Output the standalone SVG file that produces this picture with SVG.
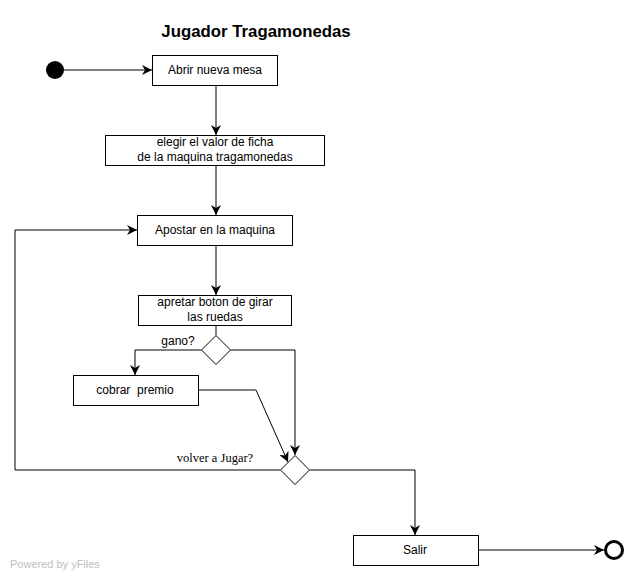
<svg xmlns="http://www.w3.org/2000/svg" width="641" height="580" viewBox="0 0 641 580">
<style>
.box{fill:#fff;stroke:#000;stroke-width:1}
.t{font-family:"Liberation Sans",Arial,sans-serif;font-size:12px;fill:#000;text-anchor:middle;white-space:pre}
.e{fill:none;stroke:#000;stroke-width:1}
</style>
<defs>
<marker id="a" markerWidth="12" markerHeight="10" refX="10" refY="5" orient="auto" markerUnits="userSpaceOnUse">
<path d="M0,0 L10,5 L0,10 L3,5 z" fill="#000"/>
</marker>
</defs>
<rect width="641" height="580" fill="#fff"/>
<text x="256" y="37" font-family="Liberation Sans,Arial,sans-serif" font-size="16.8" font-weight="bold" text-anchor="middle">Jugador Tragamonedas</text>
<g id="connectors">
<path class="e" d="M64,70 H152" marker-end="url(#a)"/>
<path class="e" d="M216,86 V135" marker-end="url(#a)"/>
<path class="e" d="M216,165 V215" marker-end="url(#a)"/>
<path class="e" d="M216,245 V295" marker-end="url(#a)"/>
<path class="e" d="M216,325 V335"/>
<path class="e" d="M201,350 H135 V375" marker-end="url(#a)"/>
<path class="e" d="M231,350 H295 V455" marker-end="url(#a)"/>
<path class="e" d="M198,390 H256 L288,462" marker-end="url(#a)"/>
<path class="e" d="M280,470 H15 V230 H137" marker-end="url(#a)"/>
<path class="e" d="M310,470 H415 V535" marker-end="url(#a)"/>
<path class="e" d="M478,550 H604" marker-end="url(#a)"/>
</g>
<g id="start"><circle cx="55" cy="70" r="9" fill="#000"/></g>
<g id="n1"><rect class="box" x="152.5" y="55.5" width="125" height="30"/><text class="t" x="215" y="74">Abrir nueva mesa</text></g>
<g id="n2"><rect class="box" x="105.5" y="135.5" width="219" height="30"/><text class="t" x="215" y="146">elegir el valor de ficha</text><text class="t" x="215" y="161">de la maquina tragamonedas</text></g>
<g id="n3"><rect class="box" x="137.5" y="215.5" width="155" height="30"/><text class="t" x="215" y="234">Apostar en la maquina</text></g>
<g id="n4"><rect class="box" x="138.5" y="295.5" width="153" height="30"/><text class="t" x="215" y="306">apretar boton de girar</text><text class="t" x="215" y="321">las ruedas</text></g>
<g id="d1"><path class="box" d="M216,335.5 L230.5,350 L216,364.5 L201.5,350 z"/><text class="t" x="178" y="345">gano?</text></g>
<g id="n5"><rect class="box" x="73.5" y="375.5" width="125" height="30"/><text class="t" x="135" y="394" xml:space="preserve">cobrar  premio</text></g>
<g id="d2"><path class="box" d="M295,455.5 L309.5,470 L295,484.5 L280.5,470 z"/><text x="215" y="462" font-family="Liberation Serif,Times New Roman,serif" font-size="12.5" text-anchor="middle">volver a Jugar?</text></g>
<g id="n6"><rect class="box" x="353.5" y="535.5" width="125" height="30"/><text class="t" x="415" y="554">Salir</text></g>
<g id="end"><circle cx="614" cy="550" r="8.5" fill="#fff" stroke="#000" stroke-width="3"/></g>
<text x="10" y="568" font-family="Liberation Sans,Arial,sans-serif" font-size="11" fill="#c0c0c0">Powered by yFiles</text>
</svg>
